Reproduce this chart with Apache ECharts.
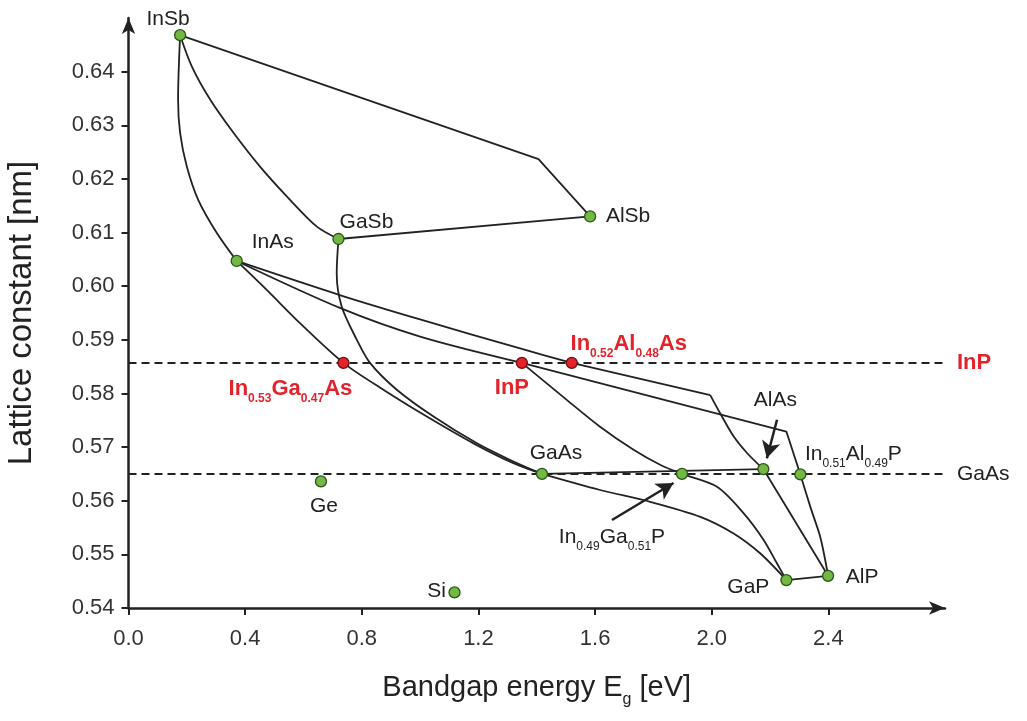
<!DOCTYPE html>
<html>
<head>
<meta charset="utf-8">
<title>Lattice constant vs bandgap</title>
<script src="https://cdn.jsdelivr.net/npm/echarts@6/dist/echarts.min.js"></script>
<style>
  html, body { margin: 0; padding: 0; background: #fff; }
  #chart { width: 1027px; height: 721px; }
</style>
</head>
<body>
<div id="chart"></div>
<script>
// axis ticks
const xTicks = [0.0, 0.4, 0.8, 1.2, 1.6, 2.0, 2.4]
const yTicks = [0.54, 0.55, 0.56, 0.57, 0.58, 0.59, 0.60, 0.61, 0.62, 0.63, 0.64]

// materials [Eg (eV), a (nm)]
const InSb = [0.177, 0.6468]
const GaSb = [0.720, 0.6088]
const AlSb = [1.583, 0.6130]
const InAs = [0.371, 0.6047]
const GaAs = [1.418, 0.5650]
const AlAs = [2.177, 0.5659]
const InP = [1.349, 0.5857]
const GaP = [2.256, 0.5452]
const AlP = [2.399, 0.5460]
const Ge = [0.660, 0.5636]
const Si = [1.118, 0.5429]
const InGaAs = [0.737, 0.5857]
const InAlAs = [1.520, 0.5857]
const InGaP = [1.898, 0.5650]
const InAlP = [2.304, 0.5649]

// lattice matched levels
const inpLevel = 0.5857
const gaasLevel = 0.5650
const dashedX = [0, 2.846]

// bowing curves
const curveInSbInAs = [InSb, [0.170, 0.6348], [0.177, 0.6286], [0.200, 0.6223], [0.239, 0.6161], [0.303, 0.6099], InAs]
const curveInSbGaSb = [InSb, [0.217, 0.6410], [0.280, 0.6348], [0.360, 0.6286], [0.451, 0.6223], [0.554, 0.6161], [0.646, 0.6111], GaSb]
const curveGaSbGaAs = [GaSb, [0.714, 0.6024], [0.731, 0.5962], [0.783, 0.5900], [0.828, 0.5857], [0.920, 0.5807], [1.046, 0.5757], [1.195, 0.5707], [1.309, 0.5676], GaAs]
const curveInAsGaAs = [InAs, [0.474, 0.5993], [0.588, 0.5931], InGaAs, [0.874, 0.5807], [1.023, 0.5757], [1.183, 0.5707], [1.320, 0.5670], GaAs]
const curveInAsInP = [InAs, [0.727, 0.5959], [1.000, 0.5906], InP]
const curveInAsInAlAs = [InAs, [0.727, 0.5983], [1.000, 0.5938], [1.349, 0.5883], InAlAs]
const curveInPInGaP = [InP, [1.503, 0.5788], [1.617, 0.5738], [1.732, 0.5695], [1.823, 0.5667], InGaP, [2.018, 0.5626], [2.109, 0.5577], [2.178, 0.5527], [2.224, 0.5483], GaP]
const curveGaAsGaP = [GaAs, [1.617, 0.5620], [1.789, 0.5598], [1.961, 0.5570], [2.075, 0.5539], [2.166, 0.5502], GaP]
const curveKinkAlAs = [[1.995, 0.5797], [2.029, 0.5763], [2.075, 0.5720], [2.121, 0.5689], AlAs]
const curveInAlPAlP = [InAlP, [2.338, 0.5589], [2.372, 0.5533], [2.389, 0.5490], AlP]

// straight segments
const lineInSbAlSb = [InSb, [1.406, 0.6237], AlSb]
const lineGaSbAlSb = [GaSb, AlSb]
const lineInAlAsKink = [InAlAs, [1.995, 0.5797]]
const lineInPInAlP = [InP, [2.256, 0.5729], InAlP]
const lineGaAsAlAs = [GaAs, AlAs]
const lineAlAsAlP = [AlAs, AlP]
const lineGaPAlP = [GaP, AlP]

// arrows [from, to]
const arrowAlAs = [[2.224, 0.5751], [2.189, 0.5679]]
const arrowInGaP = [[1.658, 0.5564], [1.869, 0.5633]]

const FONT = "'Liberation Sans', Arial, sans-serif"
const RED = '#e3222b'
const INK = '#222'

const chart = echarts.init(document.getElementById('chart'))

const subRich = (color, bold) => ({
  n: { fontSize: bold ? 22 : 21, fontWeight: bold ? 'bold' : 'normal', color: color, fontFamily: FONT, lineHeight: 24, verticalAlign: 'bottom' },
  s: { fontSize: 12, fontWeight: bold ? 'bold' : 'normal', color: color, fontFamily: FONT, lineHeight: 24, verticalAlign: 'bottom', padding: [0, 0, -5, 0] }
})

// label placement per point
const pt = (value, text, offset, opts = {}) => ({
  value: value,
  itemStyle: opts.red ? { color: RED, borderColor: '#6a0f12' } : undefined,
  label: {
    show: !!text,
    position: 'inside',
    offset: offset,
    formatter: text,
    fontFamily: FONT,
    fontSize: opts.red ? 22 : 21,
    color: opts.red ? RED : INK,
    fontWeight: opts.red ? 'bold' : 'normal',
    rich: opts.rich ? subRich(opts.red ? RED : INK, !!opts.red) : undefined
  }
})

const curve = (data, smooth) => ({
  type: 'line',
  data: data,
  smooth: smooth ? 0.3 : false,
  symbol: 'none',
  silent: true,
  z: 3,
  lineStyle: { color: INK, width: 1.8 }
})

const dashed = (y, text, color, bold) => ({
  type: 'line',
  data: dashedX.map(x => [x, y]),
  symbol: 'none',
  silent: true,
  z: 2,
  lineStyle: { color: INK, width: 2, type: [8, 5] },
  endLabel: {
    show: true,
    formatter: text,
    distance: 10,
    fontFamily: FONT,
    fontSize: bold ? 22 : 21,
    fontWeight: bold ? 'bold' : 'normal',
    color: color
  }
})

const option = {
  animation: false,
  backgroundColor: '#fff',
  grid: { left: 128.5, right: 82, top: 18, bottom: 113, containLabel: false, outerBoundsMode: 'none' },
  xAxis: {
    type: 'value',
    min: 0,
    max: 2.8,
    name: '{t|Bandgap energy E}{g|g}{t| [eV]}',
    nameLocation: 'middle',
    nameGap: 64,
    nameTextStyle: {
      rich: {
        t: { fontSize: 29, fontFamily: FONT, color: INK, lineHeight: 30, verticalAlign: 'bottom' },
        g: { fontSize: 16, fontFamily: FONT, color: INK, lineHeight: 30, verticalAlign: 'bottom', padding: [0, 0, -6, 0] }
      }
    },
    splitLine: { show: false },
    axisLine: { onZero: false, symbol: ['none', 'arrow'], symbolSize: [10, 16], lineStyle: { color: INK, width: 2.5 } },
    axisTick: { customValues: xTicks, length: 7, lineStyle: { color: INK, width: 2 } },
    axisLabel: { customValues: xTicks, formatter: v => v.toFixed(1), fontSize: 22, fontFamily: FONT, color: '#333', margin: 20 }
  },
  yAxis: {
    type: 'value',
    min: 0.54,
    max: 0.65,
    name: 'Lattice constant [nm]',
    nameLocation: 'middle',
    nameRotate: 90,
    nameGap: 72,
    nameTextStyle: { fontSize: 33, fontFamily: FONT, color: INK, padding: [0, 0, 18, 0] },
    splitLine: { show: false },
    axisLine: { onZero: false, symbol: ['none', 'arrow'], symbolSize: [10, 16], lineStyle: { color: INK, width: 2.5 } },
    axisTick: { customValues: yTicks, length: 7, lineStyle: { color: INK, width: 2 } },
    axisLabel: { customValues: yTicks, formatter: v => v.toFixed(2), fontSize: 22, fontFamily: FONT, color: '#333', margin: 14 }
  },
  series: [
    dashed(inpLevel, 'InP', RED, true),
    dashed(gaasLevel, 'GaAs', INK, false),
    curve(curveInSbInAs, true),
    curve(curveInSbGaSb, true),
    curve(curveGaSbGaAs, true),
    curve(curveInAsGaAs, true),
    curve(curveInAsInP, true),
    curve(curveInAsInAlAs, true),
    curve(curveInPInGaP, true),
    curve(curveGaAsGaP, true),
    curve(curveKinkAlAs, true),
    curve(curveInAlPAlP, true),
    curve(lineInSbAlSb, false),
    curve(lineGaSbAlSb, false),
    curve(lineInAlAsKink, false),
    curve(lineInPInAlP, false),
    curve(lineGaAsAlAs, false),
    curve(lineAlAsAlP, false),
    curve(lineGaPAlP, false),
    {
      type: 'scatter',
      symbolSize: 11,
      z: 5,
      silent: true,
      itemStyle: { color: '#72b843', borderColor: '#2b531b', borderWidth: 1.3, opacity: 1 },
      markLine: {
        silent: true,
        symbol: ['none', 'arrow'],
        symbolSize: [14, 17],
        label: { show: false },
        lineStyle: { color: INK, width: 2.5, type: 'solid' },
        data: [arrowAlAs, arrowInGaP].map(a => [{ coord: a[0] }, { coord: a[1] }])
      },
      data: [
        pt(InSb, 'InSb', [-12, -16]),
        pt(GaSb, 'GaSb', [28, -17]),
        pt(AlSb, 'AlSb', [38, 0]),
        pt(InAs, 'InAs', [36, -19]),
        pt(Ge, 'Ge', [3, 25]),
        pt(Si, 'Si', [-18, -1]),
        pt(GaAs, 'GaAs', [14, -21]),
        pt(InGaP, '{n|In}{s|0.49}{n|Ga}{s|0.51}{n|P}', [-70, 62], { rich: true }),
        pt(AlAs, 'AlAs', [12, -69]),
        pt(InAlP, '{n|In}{s|0.51}{n|Al}{s|0.49}{n|P}', [53, -22], { rich: true }),
        pt(GaP, 'GaP', [-38, 7]),
        pt(AlP, 'AlP', [34, 1]),
        pt(InGaAs, '{n|In}{s|0.53}{n|Ga}{s|0.47}{n|As}', [-53, 25], { red: true, rich: true }),
        pt(InP, 'InP', [-10, 25], { red: true }),
        pt(InAlAs, '{n|In}{s|0.52}{n|Al}{s|0.48}{n|As}', [57, -20], { red: true, rich: true })
      ]
    }
  ]
}

chart.setOption(option)
</script>
</body>
</html>
